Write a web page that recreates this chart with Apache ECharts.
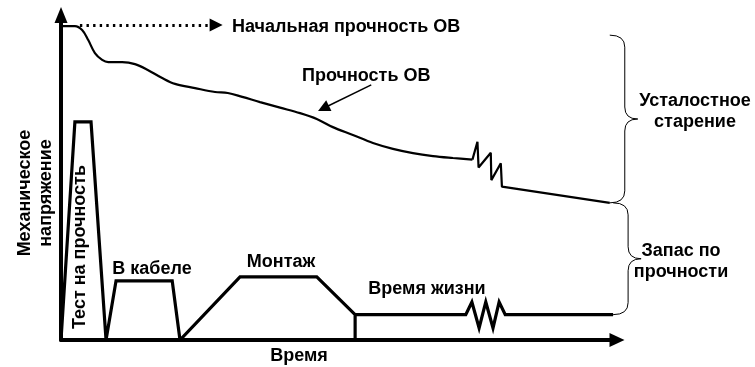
<!DOCTYPE html>
<html><head><meta charset="utf-8">
<script src="https://cdn.jsdelivr.net/npm/echarts@6/dist/echarts.min.js"></script>
<style>html,body{margin:0;padding:0;background:#fff}#c{width:755px;height:367px}</style>
</head><body><div id="c"></div>
<script>
// time (0..100) vs mechanical stress / strength (0..100)
const strengthCurve = [[0,96.6],[2.5,96.6],[3.8,95.4],[4.9,92.3],[6.1,88.3],[7.4,86.2],[8.5,85.5],[11.0,85.5],[13.3,84.9],[15.6,83.1],[18.2,80.6],[20.5,78.8],[24.1,77.5],[27.7,76.3],[30.0,76.0],[32.6,74.8],[35.8,73.2],[39.4,71.5],[43.0,69.8],[46.0,68.0],[48.9,65.5],[52.5,63.1],[56.1,60.6],[59.7,58.8],[63.3,57.5],[66.9,56.6],[70.5,56.0],[74.0,55.5]];
const strengthJumps = [[74.0,55.5],[74.9,61.0],[75.1,53.1],[77.3,57.6],[77.4,49.2],[79.1,54.4],[79.3,47.2],[98.7,42.2]];
const stressProfile = [[0,0],[2.5,67.1],[5.4,67.1],[8.1,0],[9.9,18.2],[20.0,18.2],[21.4,0],[32.2,19.4],[46.0,19.4],[52.9,7.8],[52.9,0]];
const lifeProfile = [[52.9,7.8],[72.8,7.8],[73.9,11.7],[75.2,3.7],[76.4,11.7],[77.7,3.7],[78.8,11.7],[79.9,7.8],[99.3,7.8]];
const initialStrengthLine = [[3.4,96.9],[27.9,96.9]];
const pointerLine = [[55.8,78.5],[47.2,71.3]];
const braceSpans = [[98.7,93.8,42.2],[99.3,42.2,7.8]];

const FONT = '"Liberation Sans", Arial, sans-serif';
const chart = echarts.init(document.getElementById('c'), null, {renderer:'canvas'});

function txt(text, x, y, opts) {
  opts = opts || {};
  return {type:'text', x:x, y:y, rotation: opts.rot || 0, z:100,
    style:{text:text, fill:'#000', font:'bold ' + (opts.size||18) + 'px ' + FONT,
      textAlign: opts.align || 'center', textVerticalAlign:'middle', lineHeight: opts.lh || 21}};
}

const option = {
  animation:false,
  backgroundColor:'#fff',
  grid:{left:61, right:138, top:15, bottom:27},
  xAxis:{type:'value', min:0, max:100,
    axisLine:{show:true, symbol:['none','triangle'], symbolSize:[14,15], lineStyle:{color:'#000', width:4}},
    axisTick:{show:false}, axisLabel:{show:false}, splitLine:{show:false}},
  yAxis:{type:'value', min:0, max:100,
    axisLine:{show:true, symbol:['none','triangle'], symbolSize:[13,16], lineStyle:{color:'#000', width:4}},
    axisTick:{show:false}, axisLabel:{show:false}, splitLine:{show:false}},
  series:[
    {type:'line', data:strengthCurve, smooth:0.35, symbol:'none', lineStyle:{color:'#000', width:2.2}},
    {type:'line', data:strengthJumps, symbol:'none', lineStyle:{color:'#000', width:2.2}},
    {type:'line', data:stressProfile, symbol:'none', lineStyle:{color:'#000', width:3.2, join:'miter'}},
    {type:'line', data:lifeProfile, symbol:'none', lineStyle:{color:'#000', width:3.2, join:'miter'}},
    {type:'lines', coordinateSystem:'cartesian2d', symbol:['none','triangle'], symbolSize:[14,13],
      lineStyle:{color:'#000', width:2.8, type:[2.4,4.2], opacity:1},
      data:[{coords:initialStrengthLine}]},
    {type:'lines', coordinateSystem:'cartesian2d', symbol:['none','triangle'], symbolSize:[7,12],
      lineStyle:{color:'#000', width:1.5, opacity:1},
      data:[{coords:pointerLine}]},
    {type:'custom', clip:false, data:braceSpans,
      renderItem:function(params, api){
        const a = api.coord([api.value(0), api.value(1)]);
        const b = api.coord([api.value(0), api.value(2)]);
        const x0 = a[0], y1 = a[1], y2 = b[1];
        const xs = x0 + 15, xt = x0 + 28, ym = (y1 + y2) / 2, r = 12;
        const d = 'M' + x0 + ' ' + y1 + ' Q' + xs + ' ' + y1 + ' ' + xs + ' ' + (y1 + r) +
          ' L' + xs + ' ' + (ym - r) + ' Q' + xs + ' ' + ym + ' ' + xt + ' ' + ym +
          ' Q' + xs + ' ' + ym + ' ' + xs + ' ' + (ym + r) +
          ' L' + xs + ' ' + (y2 - r) + ' Q' + xs + ' ' + y2 + ' ' + x0 + ' ' + y2;
        return {type:'path', shape:{pathData:d}, style:{fill:'none', stroke:'#000', lineWidth:1}};
      }}
  ],
  graphic:[
    txt('Начальная прочность ОВ', 232, 27, {align:'left'}),
    txt('Прочность ОВ', 302, 76, {align:'left'}),
    txt('Механическое\nнапряжение', 36, 193, {rot:Math.PI/2}),
    txt('Тест на прочность', 80, 247, {rot:Math.PI/2}),
    txt('В кабеле', 152, 269),
    txt('Монтаж', 281, 262),
    txt('Время жизни', 427, 289),
    txt('Время', 299, 356),
    txt('Усталостное\nстарение', 695, 112),
    txt('Запас по\nпрочности', 681, 262)
  ]
};
chart.setOption(option);
</script></body></html>
